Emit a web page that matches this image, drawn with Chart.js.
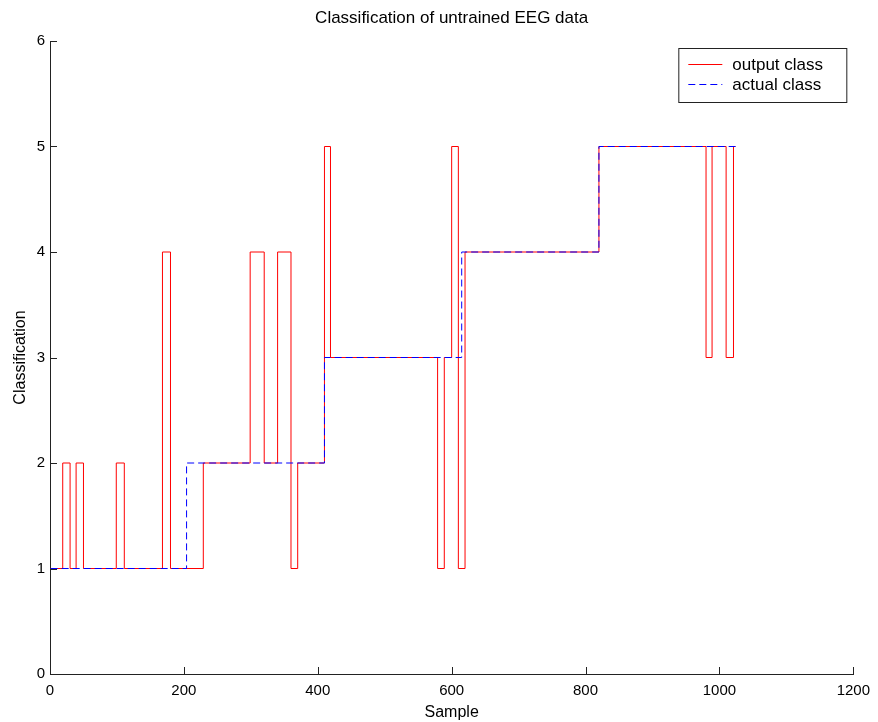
<!DOCTYPE html>
<html>
<head>
<meta charset="utf-8">
<script src="https://cdn.jsdelivr.net/npm/chart.js@4.4.1/dist/chart.umd.min.js"></script>
<style>
  html, body { margin: 0; padding: 0; background: #fff; }
  #chart { display: block; }
</style>
</head>
<body>
<canvas id="chart" width="878" height="722"></canvas>
<script>
// --- data: sample index where the class changes, and the new class ---
const outputSamples = [1, 19, 30, 39, 50, 99, 111, 168, 180, 229, 299, 320, 340, 360, 370, 410, 419, 579, 589, 600, 610, 620, 820, 980, 989, 1010, 1021, 1024];
const outputClass   = [1, 2, 1, 2, 1, 2, 1, 4, 1, 2, 4, 2, 4, 1, 2, 5, 3, 1, 3, 5, 1, 4, 5, 3, 5, 3, 5, 5];

const actualSamples = [1, 204, 410, 615, 820, 1024];
const actualClass   = [1, 2, 3, 4, 5, 5];

const xTicks = [0, 200, 400, 600, 800, 1000, 1200];
const yTicks = [0, 1, 2, 3, 4, 5, 6];

const FONT = '"Liberation Sans", Arial, Helvetica, sans-serif';
Chart.defaults.font.family = FONT;
Chart.defaults.font.size = 15;
Chart.defaults.color = '#000';

const toPoints = (xs, ys) => xs.map((x, i) => ({ x, y: ys[i] }));

// MATLAB style tick marks pointing into the plot
const innerTicks = {
    id: 'innerTicks',
    afterDraw(chart) {
        const ctx = chart.ctx;
        const { x, y } = chart.scales;
        ctx.save();
        ctx.strokeStyle = '#222';
        ctx.lineWidth = 1;
        ctx.beginPath();
        x.ticks.forEach(t => {
            const px = Math.round(x.getPixelForValue(t.value)) + 0.5;
            ctx.moveTo(px, y.bottom);
            ctx.lineTo(px, y.bottom - 7);
        });
        y.ticks.forEach(t => {
            const py = Math.round(y.getPixelForValue(t.value)) + 0.5;
            ctx.moveTo(x.left, py);
            ctx.lineTo(x.left + 7, py);
        });
        ctx.stroke();
        ctx.restore();
    }
};

// legend box in the upper right corner of the axes
const boxLegend = {
    id: 'boxLegend',
    afterDraw(chart) {
        const ctx = chart.ctx;
        const area = chart.chartArea;
        const w = 168, h = 54;
        const left = area.right - 7 - w, top = area.top + 7;
        ctx.save();
        ctx.fillStyle = '#fff';
        ctx.fillRect(left, top, w, h);
        ctx.strokeStyle = '#222';
        ctx.lineWidth = 1;
        ctx.strokeRect(left + 0.5, top + 0.5, w, h);
        ctx.font = '17px ' + FONT;
        ctx.textBaseline = 'middle';
        chart.data.datasets.forEach((ds, i) => {
            const ly = Math.round(top + 16 + i * 20) + 0.5;
            ctx.strokeStyle = ds.borderColor;
            ctx.setLineDash(ds.borderDash || []);
            ctx.beginPath();
            ctx.moveTo(left + 10, ly);
            ctx.lineTo(left + 44, ly);
            ctx.stroke();
            ctx.setLineDash([]);
            ctx.fillStyle = '#000';
            ctx.fillText(ds.label, left + 54, ly + 1);
        });
        ctx.restore();
    }
};

new Chart(document.getElementById('chart'), {
    type: 'line',
    data: {
        datasets: [
            {
                label: 'output class',
                data: toPoints(outputSamples, outputClass),
                borderColor: '#ff0000',
                borderWidth: 1,
                stepped: 'before',
                pointRadius: 0,
                fill: false,
                order: 2
            },
            {
                label: 'actual class',
                data: toPoints(actualSamples, actualClass),
                borderColor: '#0000ff',
                borderWidth: 1,
                borderDash: [7, 4],
                stepped: 'before',
                pointRadius: 0,
                fill: false,
                order: 1
            }
        ]
    },
    options: {
        responsive: false,
        animation: false,
        layout: { padding: { left: 0, right: 21, top: 0, bottom: 0 } },
        plugins: {
            legend: { display: false },
            tooltip: { enabled: false },
            title: {
                display: true,
                fullSize: false,
                text: 'Classification of untrained EEG data',
                font: { size: 17, weight: 'normal' },
                color: '#000',
                padding: { top: 8, bottom: 12.6 }
            }
        },
        scales: {
            x: {
                type: 'linear',
                min: 0,
                max: 1200,
                afterBuildTicks: s => { s.ticks = xTicks.map(v => ({ value: v })); },
                ticks: { padding: 8, maxRotation: 0, callback: v => String(v) },
                grid: { display: true, drawOnChartArea: false, drawTicks: false },
                border: { display: true, color: '#222', width: 1 },
                title: { display: true, text: 'Sample', font: { size: 16 }, padding: { top: 0, bottom: 0 } },
                afterFit: s => { s.height = 48; }
            },
            y: {
                type: 'linear',
                min: 0,
                max: 6,
                afterBuildTicks: s => { s.ticks = yTicks.map(v => ({ value: v })); },
                ticks: { padding: 5, callback: v => String(v) },
                grid: { display: true, drawOnChartArea: false, drawTicks: false },
                border: { display: true, color: '#222', width: 1 },
                title: { display: true, text: 'Classification', font: { size: 16 }, padding: { top: 11, bottom: 0 } },
                afterFit: s => { s.width = 50; }
            }
        }
    },
    plugins: [innerTicks, boxLegend]
});
</script>
</body>
</html>
